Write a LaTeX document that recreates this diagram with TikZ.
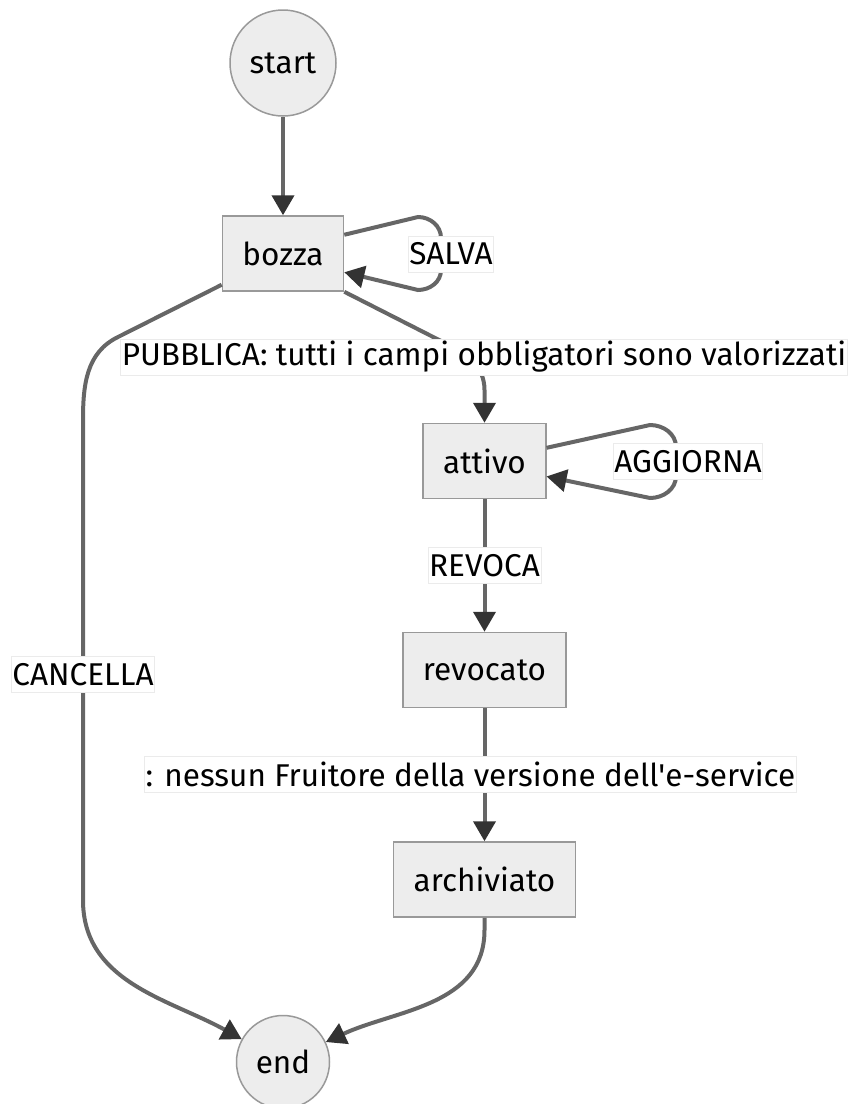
\documentclass[tikz,border=0pt]{standalone}
\usepackage{fontspec}
\setmainfont{Fira Sans}
\usetikzlibrary{arrows.meta}

\begin{document}
\begin{tikzpicture}[x=1pt,y=-1pt,
  every node/.style={font=\fontsize{31.5}{36}\selectfont},
  state/.style={rectangle,draw=black!40,fill=black!7,line width=1.5pt,minimum height=75pt,inner xsep=20pt},
  term/.style={circle,draw=black!40,fill=black!7,line width=1.5pt,inner sep=0pt},
  lbl/.style={fill=white,draw=black!8,line width=0.6pt,inner xsep=1pt,inner ysep=0pt,minimum height=36pt},
  edge/.style={draw=black!60,line width=4pt,-{Triangle[length=20pt,width=22pt,color=black!80]}}]
\useasboundingbox (0,0) rectangle (851,1104);
\node [term,minimum size=106pt] (start) at (283,63) {start};
\node [state] (bozza) at (283,253.5) {bozza};
\node [state] (attivo) at (484.5,461) {attivo};
\node [state] (revocato) at (484.5,670) {revocato};
\node [state] (archiviato) at (484.5,879.5) {archiviato};
\node [term,minimum size=93pt] (stop) at (283,1062) {end};
\draw [edge] (start) -- (bozza);
\draw [edge] (bozza.17) -- (418,217) to[out=0,in=90] (441,238)
  -- node[lbl,xshift=10] (salva) {SALVA} (441,270) to[out=-90,in=0] (418,290) -- (bozza.-17);
\draw [edge] (bozza.south east) -- (445,343) to[out=-27,in=90] (484.5,390) -- (attivo.north);
\node [lbl] (pubblica) at (484,357) {PUBBLICA: tutti i campi obbligatori sono valorizzati};
\draw [edge] (bozza.-153) -- (118,337) to[out=-154,in=90] (83,420)
  -- node[lbl,pos=0.53] (cancella) {CANCELLA} (83,900) to[out=-90,in=151] (stop);
\draw [edge] (attivo.12) -- (650,425) to[out=0,in=90] (676,447)
  -- node[lbl,xshift=12] (aggiorna) {AGGIORNA} (676,476) to[out=-90,in=0] (650,498) -- (attivo.-14);
\draw [edge] (attivo) -- node[lbl] (revoca) {REVOCA} (revocato);
\draw [edge] (revocato) -- node[lbl,xshift=-14] (nessun) {: nessun Fruitore della versione dell\textquotesingle e-service} (archiviato);
\draw [edge] (archiviato.south) -- (484.5,930) to[out=-90,in=25] (stop);
\end{tikzpicture}
\end{document}
